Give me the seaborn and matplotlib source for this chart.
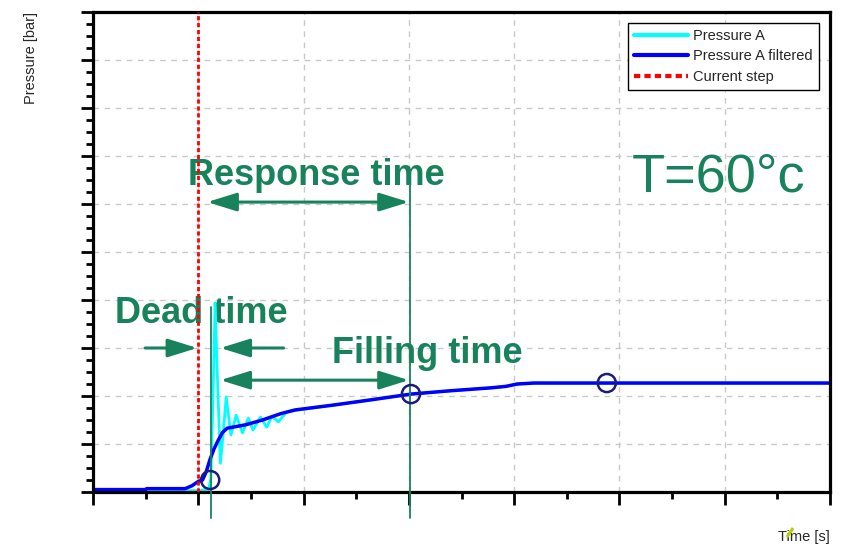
import matplotlib
matplotlib.use("Agg")
import matplotlib.pyplot as plt
from matplotlib.ticker import MultipleLocator
from matplotlib.lines import Line2D
import seaborn as sns
import pandas as pd

# ---- data ----
time_raw = [0.0, 1.02, 1.10, 1.12, 1.14, 1.16, 1.18, 1.21, 1.24, 1.265, 1.31, 1.36, 1.42,
            1.475, 1.52, 1.59, 1.65, 1.70, 1.76, 1.84, 1.92, 2.28, 2.64, 3.02, 3.40,
            3.78, 3.92, 4.03, 4.19, 7.0]
pressure_raw = [0.03, 0.03, 0.06, 0.3, 2.0, 3.94, 2.5, 0.6, 1.3, 1.98, 1.19, 1.6, 1.23,
                1.54, 1.29, 1.56, 1.35, 1.58, 1.46, 1.67, 1.70, 1.81, 1.92, 2.04, 2.11,
                2.17, 2.20, 2.25, 2.27, 2.27]

time_filt = [0.0, 0.5, 0.51, 0.875, 0.94, 1.0, 1.04, 1.075, 1.11, 1.15, 1.19, 1.23, 1.275,
             1.35, 1.45, 1.61, 1.78, 1.92, 2.28, 2.64, 3.02, 3.40, 3.78, 3.92, 4.03, 4.19, 7.0]
pressure_filt = [0.05, 0.05, 0.07, 0.07, 0.13, 0.22, 0.25, 0.42, 0.67, 0.9, 1.08, 1.24, 1.33,
                 1.36, 1.40, 1.50, 1.63, 1.71, 1.81, 1.92, 2.04, 2.11, 2.17, 2.20, 2.25, 2.27, 2.27]

step_time = 1.0
marker_t = [1.113, 3.02, 4.88]
marker_p = [0.25, 2.04, 2.27]
response_lines = [1.12, 3.01]

series_labels = ["Pressure A", "Pressure A filtered", "Current step"]
annotation_texts = ["Response time", "Dead time", "Filling time", "T=60°c"]
axis_labels = ["Time [s]", "Pressure [bar]"]

GREEN = "#17825c"

sns.set_style("white")
plt.rcParams["font.family"] = ["Liberation Sans", "DejaVu Sans"]

fig = plt.figure(figsize=(8.44, 5.46), dpi=100)
ax = fig.add_axes([93 / 844, 54 / 546, 737 / 844, 480 / 546])

raw_df = pd.DataFrame({"t": time_raw, "p": pressure_raw})
filt_df = pd.DataFrame({"t": time_filt, "p": pressure_filt})

sns.lineplot(data=raw_df, x="t", y="p", color="#00ffff", linewidth=2.0,
             sort=False, estimator=None, label=series_labels[0], ax=ax, zorder=2)
sns.lineplot(data=filt_df, x="t", y="p", color="#0000ff", linewidth=2.5,
             sort=False, estimator=None, label=series_labels[1], ax=ax, zorder=2.2)
ax.axvline(step_time, color="red", linestyle=(0, (1.5, 1.0)), linewidth=2.0,
           label=series_labels[2], zorder=3)

# green marker lines
ax.plot([response_lines[0]] * 2, [-0.54, 3.85], color=GREEN, lw=1.3, clip_on=False, zorder=3.5)
ax.plot([response_lines[1]] * 2, [-0.54, 6.6], color=GREEN, lw=1.3, clip_on=False, zorder=3.5)

# circles
sns.scatterplot(x=marker_t, y=marker_p, marker="o", s=170, facecolor="none",
                edgecolor="#1c1c78", linewidth=1.8, ax=ax, zorder=4, legend=False)

# arrows
def arrow(x0, x1, y, style):
    ax.annotate("", xy=(x1, y), xytext=(x0, y),
                arrowprops=dict(arrowstyle=style + ",head_length=0.9,head_width=0.28",
                                color=GREEN, lw=2.2, shrinkA=0, shrinkB=0,
                                mutation_scale=20), zorder=3)

arrow(1.085, 3.0, 6.04, "<|-|>")
arrow(1.21, 3.0, 2.33, "<|-|>")
arrow(0.495, 0.99, 3.0, "-|>")
arrow(1.81, 1.21, 3.0, "-|>")

# texts
ax.text(2.12, 6.40, annotation_texts[0], color=GREEN, fontsize=26, fontweight="bold",
        ha="center", va="baseline", zorder=1)
ax.text(1.03, 3.52, annotation_texts[1], color=GREEN, fontsize=26, fontweight="bold",
        ha="center", va="baseline", zorder=1)
ax.text(3.18, 2.69, annotation_texts[2], color=GREEN, fontsize=26, fontweight="bold",
        ha="center", va="baseline", zorder=1)
ax.text(5.94, 6.25, annotation_texts[3], color=GREEN, fontsize=39,
        ha="center", va="baseline", zorder=1)

# axes formatting
ax.set_xlim(0, 7)
ax.set_ylim(0, 10)
ax.xaxis.set_major_locator(MultipleLocator(1))
ax.xaxis.set_minor_locator(MultipleLocator(0.5))
ax.yaxis.set_major_locator(MultipleLocator(1))
ax.yaxis.set_minor_locator(MultipleLocator(0.25))
ax.tick_params(which="major", direction="out", length=9, width=2, color="black",
               labelbottom=False, labelleft=False, bottom=True, left=True)
ax.tick_params(which="minor", direction="out", length=5, width=2, color="black",
               bottom=True, left=True)
ax.grid(True, which="major", color="#c8c8c8", linestyle=(0, (4, 4)), linewidth=1)
for sp in ax.spines.values():
    sp.set_visible(True)
    sp.set_color("black")
    sp.set_linewidth(2.3)

ax.set_xlabel(axis_labels[0], loc="right", fontsize=10.5)
ax.set_ylabel(axis_labels[1], loc="top", fontsize=10.5)
ax.xaxis.set_label_coords(1.0, -0.079)
ax.yaxis.set_label_coords(-0.075, 1.0)

# small yellow-green stroke over the "i" of the x label (as in the reference)
fig.add_artist(Line2D([787 / 844, 793 / 844], [1 - 537 / 546, 1 - 528 / 546],
                      color="#b8cc00", lw=2.2, solid_capstyle="butt"))

leg = ax.legend(loc="upper right", bbox_to_anchor=(0.985, 0.977), fontsize=10.5,
                frameon=True, fancybox=False, edgecolor="black", framealpha=1,
                handlelength=3.7, borderaxespad=0, labelspacing=0.45, borderpad=0.4,
                handletextpad=0.4)
leg.get_frame().set_linewidth(1.0)
for h in leg.get_lines():
    h.set_linewidth(3)

fig.savefig("out.png", dpi=100)
